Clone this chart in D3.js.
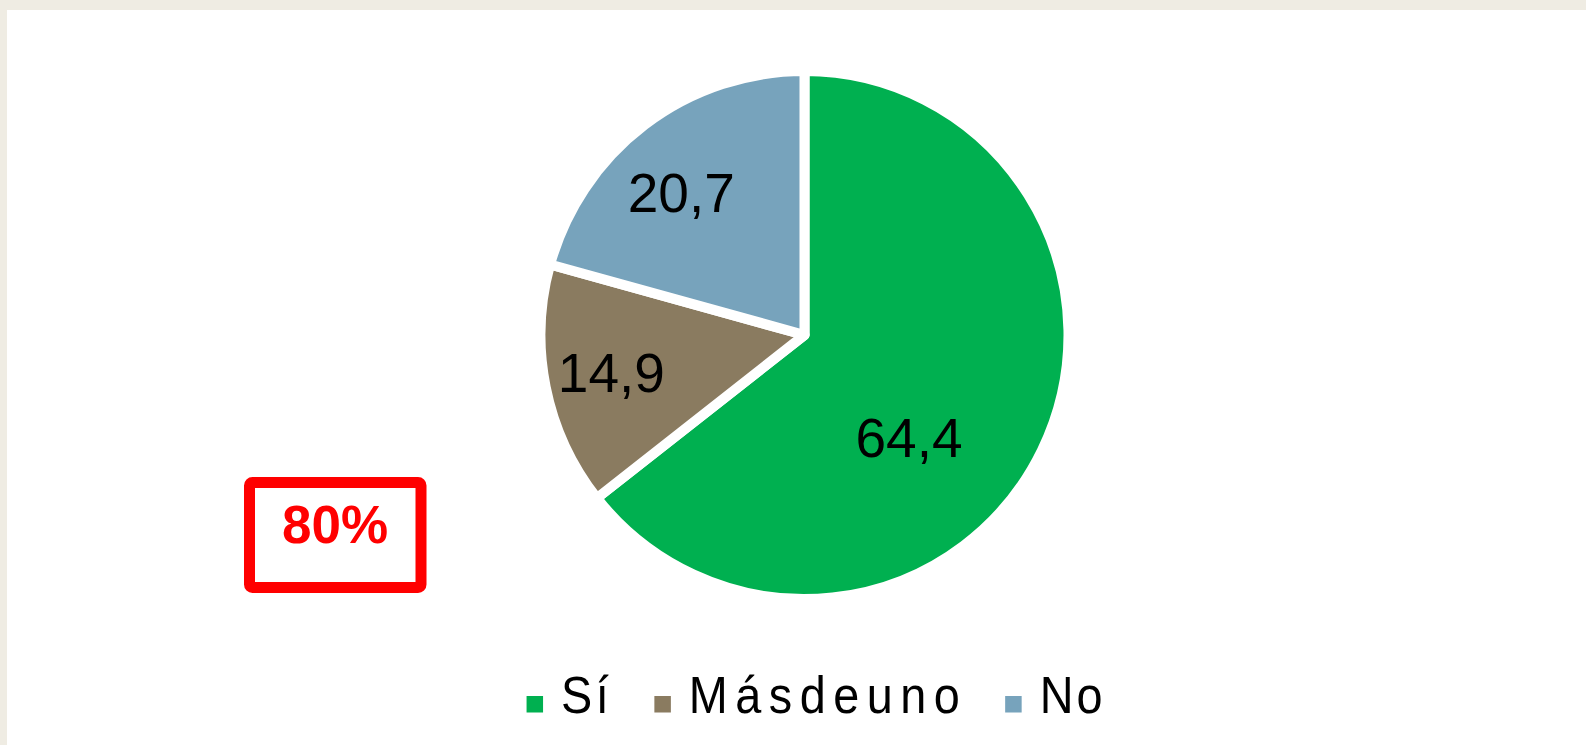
<!DOCTYPE html>
<html><head><meta charset="utf-8">
<script src="https://cdn.jsdelivr.net/npm/d3@7"></script>
<style>
html,body{margin:0;padding:0;background:#fff;}
svg{display:block;}
</style></head>
<body>
<script>
const categories = ["Sí", "Másdeuno", "No"];
const values = [64.4, 14.9, 20.7];
const labels = ["64,4", "14,9", "20,7"];
const colors = ["#00B050", "#8A7B60", "#77A3BC"];
const highlight = "80%";

const W = 1586, H = 745;
const svg = d3.select("body").append("svg").attr("width", W).attr("height", H);

// frame
svg.append("rect").attr("width", W).attr("height", H).attr("fill", "#EFECE3");
svg.append("rect").attr("x", 7).attr("y", 10).attr("width", W - 7).attr("height", H - 10).attr("fill", "#fff");

const cx = 804.5, cy = 335, rVis = 259, gap = 10;
const pie = d3.pie().sort(null).value(d => d)(values);
const arc = d3.arc().innerRadius(0).outerRadius(rVis + gap / 2);

const g = svg.append("g").attr("transform", `translate(${cx},${cy})`);
g.selectAll("path").data(pie).join("path")
  .attr("d", arc)
  .attr("fill", (d, i) => colors[i])
  .attr("stroke", "#fff")
  .attr("stroke-width", gap)
  .attr("stroke-linejoin", "round");

// label placement (angle shift in degrees, radius fraction)
const labelShift = [18.7, 0.2, -3.7];
const labelRad = [0.567, 0.76, 0.726];
g.selectAll("text.lbl").data(pie).join("text")
  .attr("class", "lbl")
  .attr("transform", (d, i) => {
    const a = (d.startAngle + d.endAngle) / 2 + labelShift[i] * Math.PI / 180;
    const r = rVis * labelRad[i];
    return `translate(${r * Math.sin(a)},${-r * Math.cos(a)})`;
  })
  .attr("text-anchor", "middle")
  .attr("dy", "0.35em")
  .attr("font-family", "'Liberation Sans', Arial, sans-serif")
  .attr("font-size", 55)
  .attr("fill", "#000")
  .text((d, i) => labels[i]);

// 80% box
svg.append("rect").attr("x", 249.5).attr("y", 482.5).attr("width", 171.5).attr("height", 105)
  .attr("rx", 3).attr("fill", "#fff").attr("stroke", "#FF0000").attr("stroke-width", 11);
svg.append("text").attr("x", 335).attr("y", 543).attr("text-anchor", "middle")
  .attr("font-family", "'Liberation Sans', Arial, sans-serif").attr("font-weight", "bold")
  .attr("font-size", 53).attr("fill", "#FF0000").text(highlight);

// legend (slightly condensed text)
const legFont = "'Liberation Sans', Arial, sans-serif";
const squeeze = 0.9;
const spacing = [4, 8.3, 3.3];
const sq = 16.5, sqGap = 18, itemGap = 45.5, legCenter = 814.5, legBase = 713;
const leg = svg.append("g");
const items = leg.selectAll("g").data(categories).join("g");
items.append("rect").attr("width", sq).attr("height", sq).attr("y", legBase - 17)
  .attr("fill", (d, i) => colors[i]);
items.append("text")
  .attr("transform", `translate(${sq + sqGap},${legBase}) scale(${squeeze},1)`)
  .attr("font-family", legFont).attr("font-size", 52)
  .attr("letter-spacing", (d, i) => spacing[i])
  .attr("fill", "#000").text(d => d);
let widths = [];
items.each(function (d, i) {
  const t = d3.select(this).select("text").node();
  widths.push(sq + sqGap + (t.getComputedTextLength() - spacing[i]) * squeeze);
});
const total = d3.sum(widths) + itemGap * (widths.length - 1);
let x0 = legCenter - total / 2;
items.attr("transform", (d, i) => {
  const x = x0;
  x0 += widths[i] + itemGap;
  return `translate(${x},0)`;
});
</script>
</body></html>
